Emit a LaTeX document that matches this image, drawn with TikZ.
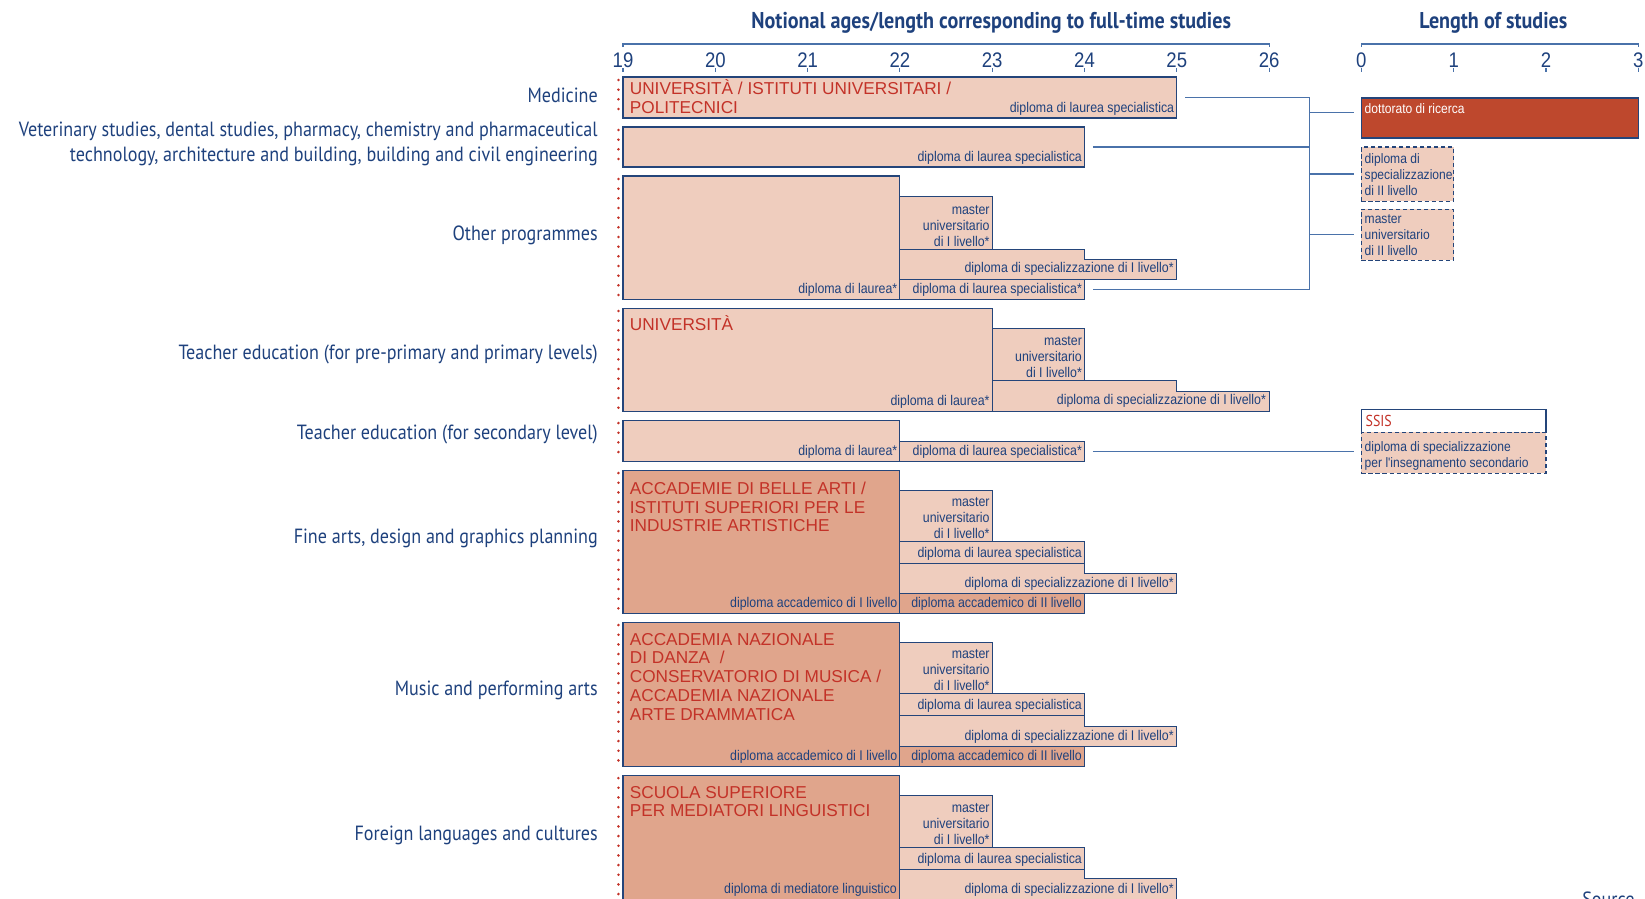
\documentclass[tikz,border=0pt]{standalone}
\usepackage{fontspec}
\setmainfont{Liberation Sans}
\newfontfamily\narrowfont[FakeStretch=0.88]{Liberation Sans}
\newfontfamily\labelfont[FakeStretch=0.88]{PT Sans}
\usetikzlibrary{fit,positioning}
\definecolor{deepblue}{HTML}{1E417D}
\definecolor{edgeblue}{HTML}{24457A}
\definecolor{linkblue}{HTML}{4A72AA}
\definecolor{peach}{HTML}{EFCDBE}
\definecolor{clay}{HTML}{E0A58C}
\definecolor{rust}{HTML}{BE482D}
\definecolor{brick}{HTML}{C33228}
\newcommand{\tagsize}{\narrowfont\fontsize{8}{9}\selectfont}
\newcommand{\sidesize}{\narrowfont\fontsize{7.8}{9}\selectfont}
\newcommand{\instsize}{\fontsize{9.8}{10.7}\selectfont}
\newcommand{\fieldsize}{\labelfont\fontsize{11.7}{14.3}\selectfont}
\newcommand{\headsize}{\labelfont\bfseries\fontsize{13}{15}\selectfont}
\newcommand{\numsize}{\narrowfont\fontsize{12}{13}\selectfont}

\begin{document}
\begin{tikzpicture}[x=1.846cm, y=-0.02cm,
    box/.style={draw=edgeblue, fill=peach, line width=0.6pt, inner sep=0pt},
    darkbox/.style={box, fill=clay},
    dashbox/.style={box, dash pattern=on 2.4pt off 1.6pt},
    tag/.style={font=\tagsize, text=deepblue, inner sep=1.6pt, align=right},
    sidetag/.style={tag, font=\sidesize, anchor=north west, align=left, inner sep=2pt},
    inst/.style={font=\instsize, text=brick, inner sep=0pt, align=left},
    field/.style={font=\fieldsize, text=deepblue, inner sep=0pt, align=right},
    head/.style={font=\headsize, text=deepblue},
    num/.style={font=\numsize, text=deepblue, inner sep=0pt, anchor=south},
    link/.style={draw=linkblue, line width=0.6pt},
    reddots/.style={draw=brick, line width=1.6pt, line cap=round, dash pattern=on 0pt off 5.5pt}
  ]
  \useasboundingbox (12.25,0) rectangle (30.073,898);

  % scales
  \node[head] (agehead) at (22.99,23) {Notional ages/length corresponding to full-time studies};
  \node[head] (lenhead) at (28.43,23) {Length of studies};
  \draw[link] (19,47) -- (19,44) -- (26,44) -- (26,47);
  \draw[link] (27,47) -- (27,44) -- (30,44) -- (30,47);
  \foreach \a in {19,...,26}{
    \node[num] (age\a) at (\a,68) {\a};
    \draw[link] (age\a.south) -- ++(0,4);
  }
  \foreach \l in {0,...,3}{
    \node[num] (len\l) at ({27+\l},68) {\l};
    \draw[link] (len\l.south) -- ++(0,4);
  }

  % fields of study
  \node[field, anchor=east] (fmed) at (18.73,95) {Medicine};
  \node[field, anchor=east] (fvet) at (18.73,143.5)
    {Veterinary studies, dental studies, pharmacy, chemistry and pharmaceutical\\
     technology, architecture and building, building and civil engineering};
  \node[field, anchor=east] (foth) at (18.73,235) {Other programmes};
  \node[field, anchor=east] (ftpp) at (18.73,354) {Teacher education (for pre-primary and primary levels)};
  \node[field, anchor=east] (ftsc) at (18.73,434) {Teacher education (for secondary level)};
  \node[field, anchor=east] (fart) at (18.73,538) {Fine arts, design and graphics planning};
  \node[field, anchor=east] (fmus) at (18.73,690) {Music and performing arts};
  \node[field, anchor=east] (flng) at (18.73,835) {Foreign languages and cultures};

  % Medicine
  \node[box, fit={(19,77) (25,118)}] (med) {};
  \node[inst, anchor=north west] (medinst) at ([xshift=4pt,yshift=-1.6pt]med.north west)
    {UNIVERSITÀ / ISTITUTI UNIVERSITARI /\\POLITECNICI};
  \node[tag, anchor=south east] (medtag) at (med.south east) {diploma di laurea specialistica};

  % Veterinary studies etc.
  \node[box, fit={(19,127) (24,167)}] (vet) {};
  \node[tag, anchor=south east] (vettag) at (vet.south east) {diploma di laurea specialistica};

  % Other programmes
  \node[box, fit={(19,176) (22,299)}] (oth) {};
  \node[tag, anchor=south east] (othtag) at (oth.south east) {diploma di laurea*};
  \node[box, fit={(22,196) (23,249)}] (othma) {};
  \node[tag, anchor=south east] (othmatag) at (othma.south east) {master\\universitario\\di I livello*};
  \draw[box] (22,249) -| (24,259) -| (25,279) -- (22,279) -- cycle;
  \coordinate (othsp) at (25,279);
  \node[tag, anchor=south east] (othsptag) at (othsp) {diploma di specializzazione di I livello*};
  \node[box, fit={(22,279) (24,299)}] (othls) {};
  \node[tag, anchor=south east] (othlstag) at (othls.south east) {diploma di laurea specialistica*};

  % Teacher education, pre-primary and primary
  \node[box, fit={(19,308) (23,411)}] (tpp) {};
  \node[inst, anchor=north west] (tppinst) at ([xshift=4pt,yshift=-4.4pt]tpp.north west) {UNIVERSITÀ};
  \node[tag, anchor=south east] (tpptag) at (tpp.south east) {diploma di laurea*};
  \node[box, fit={(23,328) (24,380)}] (tppma) {};
  \node[tag, anchor=south east] (tppmatag) at (tppma.south east) {master\\universitario\\di I livello*};
  \draw[box] (23,380) -| (25,391) -| (26,411) -- (23,411) -- cycle;
  \coordinate (tppsp) at (26,411);
  \node[tag, anchor=south east] (tppsptag) at (tppsp) {diploma di specializzazione di I livello*};

  % Teacher education, secondary
  \node[box, fit={(19,420) (22,461)}] (tsc) {};
  \node[tag, anchor=south east] (tsctag) at (tsc.south east) {diploma di laurea*};
  \node[box, fit={(22,441) (24,461)}] (tscls) {};
  \node[tag, anchor=south east] (tsclstag) at (tscls.south east) {diploma di laurea specialistica*};

  % Fine arts
  \node[darkbox, fit={(19,470) (22,613)}] (art) {};
  \node[inst, anchor=north west] (artinst) at ([xshift=4pt,yshift=-6.8pt]art.north west)
    {ACCADEMIE DI BELLE ARTI /\\ISTITUTI SUPERIORI PER LE\\INDUSTRIE ARTISTICHE};
  \node[tag, anchor=south east] (arttag) at (art.south east) {diploma accademico di I livello};
  \node[box, fit={(22,490) (23,541)}] (artma) {};
  \node[tag, anchor=south east] (artmatag) at (artma.south east) {master\\universitario\\di I livello*};
  \node[box, fit={(22,541) (24,563)}] (artls) {};
  \node[tag, anchor=south east] (artlstag) at (artls.south east) {diploma di laurea specialistica};
  \draw[box] (22,563) -| (24,573) -| (25,593) -- (22,593) -- cycle;
  \coordinate (artsp) at (25,593);
  \node[tag, anchor=south east] (artsptag) at (artsp) {diploma di specializzazione di I livello*};
  \node[darkbox, fit={(22,593) (24,613)}] (artacc) {};
  \node[tag, anchor=south east] (artacctag) at (artacc.south east) {diploma accademico di II livello};

  % Music and performing arts
  \node[darkbox, fit={(19,622) (22,766)}] (mus) {};
  \node[inst, anchor=north west] (musinst) at ([xshift=4pt,yshift=-6.3pt]mus.north west)
    {ACCADEMIA NAZIONALE\\DI DANZA~~/\\CONSERVATORIO DI MUSICA /\\ACCADEMIA NAZIONALE\\ARTE DRAMMATICA};
  \node[tag, anchor=south east] (mustag) at (mus.south east) {diploma accademico di I livello};
  \node[box, fit={(22,642) (23,693)}] (musma) {};
  \node[tag, anchor=south east] (musmatag) at (musma.south east) {master\\universitario\\di I livello*};
  \node[box, fit={(22,693) (24,715)}] (musls) {};
  \node[tag, anchor=south east] (muslstag) at (musls.south east) {diploma di laurea specialistica};
  \draw[box] (22,715) -| (24,726) -| (25,746) -- (22,746) -- cycle;
  \coordinate (mussp) at (25,746);
  \node[tag, anchor=south east] (mussptag) at (mussp) {diploma di specializzazione di I livello*};
  \node[darkbox, fit={(22,746) (24,766)}] (musacc) {};
  \node[tag, anchor=south east] (musacctag) at (musacc.south east) {diploma accademico di II livello};

  % Foreign languages
  \node[darkbox, fit={(19,775) (22,910)}] (lng) {};
  \node[inst, anchor=north west] (lnginst) at ([xshift=4pt,yshift=-6.3pt]lng.north west)
    {SCUOLA SUPERIORE\\PER MEDIATORI LINGUISTICI};
  \coordinate (lngend) at (22,899);
  \node[tag, anchor=south east] (lngtag) at (lngend) {diploma di mediatore linguistico};
  \node[box, fit={(22,795) (23,847)}] (lngma) {};
  \node[tag, anchor=south east] (lngmatag) at (lngma.south east) {master\\universitario\\di I livello*};
  \node[box, fit={(22,847) (24,869)}] (lngls) {};
  \node[tag, anchor=south east] (lnglstag) at (lngls.south east) {diploma di laurea specialistica};
  \draw[box] (22,869) -| (24,878) -| (25,910) -- (22,910) -- cycle;
  \coordinate (lngsp) at (25,899);
  \node[tag, anchor=south east] (lngsptag) at (lngsp) {diploma di specializzazione di I livello*};

  % dotted starts
  \foreach \g in {med,vet,oth,tpp,tsc,art,mus,lng}
    \draw[reddots] ([xshift=-2.3pt,yshift=-2pt]\g.north west) -- ([xshift=-2.3pt]\g.south west);

  % length of studies
  \node[box, fill=rust, fit={(27,98) (30,138)}] (doc) {};
  \node[sidetag, text=white] (doctag) at ([yshift=-1.5pt]doc.north west) {dottorato di ricerca};
  \node[dashbox, fit={(27,147) (28,201)}] (spec2) {};
  \node[sidetag] (spec2tag) at ([yshift=-2pt]spec2.north west) {diploma di\\specializzazione\\di II livello};
  \node[dashbox, fit={(27,209) (28,260)}] (mas2) {};
  \node[sidetag] (mas2tag) at ([yshift=-1.5pt]mas2.north west) {master\\universitario\\di II livello};
  \node[box, fill=white, fit={(27,409) (29,432)}] (ssis) {};
  \node[anchor=west, font=\labelfont\fontsize{9}{10}\selectfont, text=brick, inner sep=2.5pt] (ssistag) at (ssis.west) {SSIS};
  \node[dashbox, fit={(27,432) (29,473)}] (ssisd) {};
  \node[sidetag] (ssisdtag) at ([yshift=-3.5pt]ssisd.north west) {diploma di specializzazione\\per l'insegnamento secondario};

  % links
  \coordinate (brk) at (26.44,0);
  \draw[link] ([xshift=4.5pt]med.east) -- (med.east -| brk) -- (othls.east -| brk) -- ([xshift=4.5pt]othls.east);
  \draw[link] ([xshift=4.5pt]vet.east) -- (vet.east -| brk);
  \draw[link] ([yshift=3pt]doc.west -| brk) -- ([xshift=-4pt,yshift=3pt]doc.west);
  \draw[link] (spec2.west -| brk) -- ([xshift=-4pt]spec2.west);
  \draw[link] (mas2.west -| brk) -- ([xshift=-4pt]mas2.west);
  \draw[link] ([xshift=4.5pt]tscls.east) -- ([xshift=-4pt]ssisd.west |- tscls.east);

  \node[field, anchor=north west] (src) at (29.39,891) {Source};
\end{tikzpicture}
\end{document}
